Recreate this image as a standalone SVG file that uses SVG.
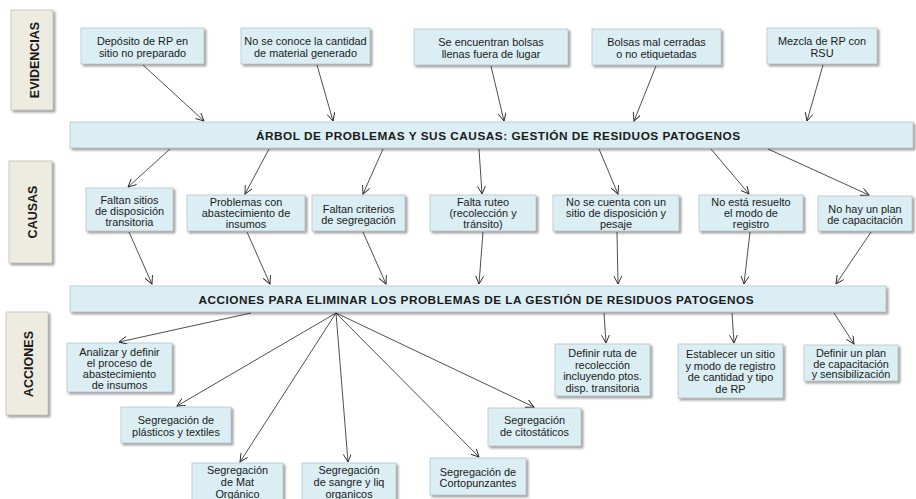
<svg xmlns="http://www.w3.org/2000/svg" width="916" height="499" viewBox="0 0 916 499">
<defs>
<filter id="sh" x="-10%" y="-10%" width="130%" height="140%">
<feDropShadow dx="2" dy="2" stdDeviation="0.8" flood-color="#7f7f7f" flood-opacity="0.75"/>
</filter>
<marker id="ar" markerWidth="10" markerHeight="10" refX="8" refY="4" orient="auto" markerUnits="userSpaceOnUse">
<path d="M0,0 L8,4 L0,8" fill="none" stroke="#222" stroke-width="0.9"/>
</marker>
<style>
.b{fill:#DAEEF3;stroke:#B8C4C8;stroke-width:0.8;filter:url(#sh)}
.s{fill:#EEECE1;stroke:#C4C2B8;stroke-width:0.8;filter:url(#sh)}
text{font-family:"Liberation Sans",Arial,sans-serif;fill:#1a1a1a;text-anchor:middle}
.t{font-size:10.9px}
.h{font-size:11.8px;font-weight:bold}
.v{font-size:12.5px;font-weight:bold}
.c line{stroke:#222;stroke-width:0.8;marker-end:url(#ar)}
</style>
</defs>
<rect width="916" height="499" fill="#fff"/>

<g id="lbl-evidencias"><rect class="s" x="11" y="10" width="42" height="100"/><text class="v" transform="translate(39,60) rotate(-90)">EVIDENCIAS</text></g>
<g id="lbl-causas"><rect class="s" x="9" y="161" width="43" height="102"/><text class="v" transform="translate(37,212) rotate(-90)">CAUSAS</text></g>
<g id="lbl-acciones"><rect class="s" x="6" y="312" width="42" height="103"/><text class="v" transform="translate(33,364) rotate(-90)">ACCIONES</text></g>

<g id="e1"><rect class="b" x="81" y="28" width="123" height="36"/><text class="t" x="142.5" y="45">Depósito de RP en</text><text class="t" x="142.5" y="57">sitio no preparado</text></g>
<g id="e2"><rect class="b" x="241" y="28" width="129" height="36"/><text class="t" x="305.5" y="45">No se conoce la cantidad</text><text class="t" x="305.5" y="57">de material generado</text></g>
<g id="e3"><rect class="b" x="414" y="29" width="154" height="36"/><text class="t" x="491" y="46">Se encuentran bolsas</text><text class="t" x="491" y="58">llenas fuera de lugar</text></g>
<g id="e4"><rect class="b" x="592" y="29" width="129" height="36"/><text class="t" x="656.5" y="46">Bolsas mal cerradas</text><text class="t" x="656.5" y="58">o no etiquetadas</text></g>
<g id="e5"><rect class="b" x="767" y="28" width="110" height="36"/><text class="t" x="822" y="45">Mezcla de RP con</text><text class="t" x="822" y="57">RSU</text></g>

<g id="bar1"><rect class="b" x="70" y="122" width="843" height="26"/><text class="h" x="498" y="139.5" textLength="484" lengthAdjust="spacing">ÁRBOL DE PROBLEMAS Y SUS CAUSAS: GESTIÓN DE  RESIDUOS PATOGENOS</text></g>

<g id="c1"><rect class="b" x="86" y="188" width="87" height="43"/><text class="t" x="129.5" y="204">Faltan sitios</text><text class="t" x="129.5" y="215">de disposición</text><text class="t" x="129.5" y="226">transitoria</text></g>
<g id="c2"><rect class="b" x="187" y="195" width="118" height="36"/><text class="t" x="246" y="206">Problemas con</text><text class="t" x="246" y="217">abastecimiento de</text><text class="t" x="246" y="228">insumos</text></g>
<g id="c3"><rect class="b" x="312" y="195" width="93" height="36"/><text class="t" x="358.5" y="213">Faltan criterios</text><text class="t" x="358.5" y="224">de segregación</text></g>
<g id="c4"><rect class="b" x="430" y="195" width="106" height="36"/><text class="t" x="483" y="206">Falta ruteo</text><text class="t" x="483" y="217">(recolección y</text><text class="t" x="483" y="228">tránsito)</text></g>
<g id="c5"><rect class="b" x="553" y="195" width="126" height="36"/><text class="t" x="616" y="206">No se cuenta con un</text><text class="t" x="616" y="217">sitio de disposición y</text><text class="t" x="616" y="228">pesaje</text></g>
<g id="c6"><rect class="b" x="699" y="195" width="104" height="36"/><text class="t" x="751" y="206">No está resuelto</text><text class="t" x="751" y="217">el modo de</text><text class="t" x="751" y="228">registro</text></g>
<g id="c7"><rect class="b" x="818" y="196" width="94" height="35"/><text class="t" x="865" y="213">No hay un plan</text><text class="t" x="865" y="224">de capacitación</text></g>

<g id="bar2"><rect class="b" x="70" y="286" width="816" height="26"/><text class="h" x="476" y="303.5" textLength="555" lengthAdjust="spacing">ACCIONES PARA ELIMINAR LOS PROBLEMAS DE LA GESTIÓN DE  RESIDUOS PATOGENOS</text></g>

<g id="a1"><rect class="b" x="67" y="343" width="105" height="49"/><text class="t" x="119.5" y="356">Analizar y definir</text><text class="t" x="119.5" y="367">el proceso de</text><text class="t" x="119.5" y="378">abastecimiento</text><text class="t" x="119.5" y="389">de insumos</text></g>
<g id="a2"><rect class="b" x="121" y="407" width="110" height="36"/><text class="t" x="176" y="424">Segregación de</text><text class="t" x="176" y="436">plásticos y textiles</text></g>
<g id="a3"><rect class="b" x="192" y="463" width="91" height="40"/><text class="t" x="237.5" y="474">Segregación</text><text class="t" x="237.5" y="486">de Mat</text><text class="t" x="237.5" y="498">Orgánico</text></g>
<g id="a4"><rect class="b" x="302" y="463" width="94" height="40"/><text class="t" x="349" y="474">Segregación</text><text class="t" x="349" y="486">de sangre y liq</text><text class="t" x="349" y="498">organicos</text></g>
<g id="a5"><rect class="b" x="430" y="458" width="96" height="37"/><text class="t" x="478" y="476">Segregación de</text><text class="t" x="478" y="487">Cortopunzantes</text></g>
<g id="a6"><rect class="b" x="488" y="408" width="93" height="38"/><text class="t" x="534.5" y="424">Segregación</text><text class="t" x="534.5" y="436">de citostáticos</text></g>
<g id="a7"><rect class="b" x="555" y="344" width="95" height="52"/><text class="t" x="602.5" y="357">Definir ruta de</text><text class="t" x="602.5" y="368.5">recolección</text><text class="t" x="602.5" y="380">incluyendo ptos.</text><text class="t" x="602.5" y="391.5">disp. transitoria</text></g>
<g id="a8"><rect class="b" x="678" y="344" width="105" height="54"/><text class="t" x="730.5" y="358">Establecer un sitio</text><text class="t" x="730.5" y="369.5">y modo de registro</text><text class="t" x="730.5" y="381">de cantidad y tipo</text><text class="t" x="730.5" y="392.5">de RP</text></g>
<g id="a9"><rect class="b" x="804" y="345" width="94" height="36"/><text class="t" x="851" y="357">Definir un plan</text><text class="t" x="851" y="367.5">de capacitación</text><text class="t" x="851" y="378">y sensibilización</text></g>

<g id="connectors" class="c">
<line x1="143" y1="65" x2="204" y2="121"/>
<line x1="317" y1="65" x2="333" y2="121"/>
<line x1="491" y1="66" x2="504" y2="121"/>
<line x1="656" y1="66" x2="634" y2="121"/>
<line x1="823" y1="65" x2="807" y2="121"/>

<line x1="170" y1="149" x2="128" y2="187"/>
<line x1="269" y1="149" x2="245" y2="194"/>
<line x1="383" y1="149" x2="363" y2="194"/>
<line x1="479" y1="149" x2="482" y2="194"/>
<line x1="599" y1="149" x2="618" y2="194"/>
<line x1="711" y1="149" x2="749" y2="194"/>
<line x1="768" y1="149" x2="869" y2="195"/>

<line x1="129" y1="232" x2="152" y2="284"/>
<line x1="247" y1="232" x2="270" y2="284"/>
<line x1="363" y1="232" x2="386" y2="284"/>
<line x1="483" y1="232" x2="479" y2="284"/>
<line x1="617" y1="232" x2="618" y2="284"/>
<line x1="750" y1="232" x2="744" y2="284"/>
<line x1="871" y1="232" x2="836" y2="284"/>

<line x1="251" y1="313" x2="119" y2="342"/>
<line x1="336" y1="313" x2="177" y2="406"/>
<line x1="336" y1="313" x2="240" y2="462"/>
<line x1="336" y1="313" x2="348" y2="462"/>
<line x1="336" y1="313" x2="479" y2="457"/>
<line x1="336" y1="313" x2="534" y2="407"/>
<line x1="604" y1="313" x2="606" y2="343"/>
<line x1="732" y1="313" x2="734" y2="343"/>
<line x1="834" y1="313" x2="854" y2="344"/>
</g>
</svg>
